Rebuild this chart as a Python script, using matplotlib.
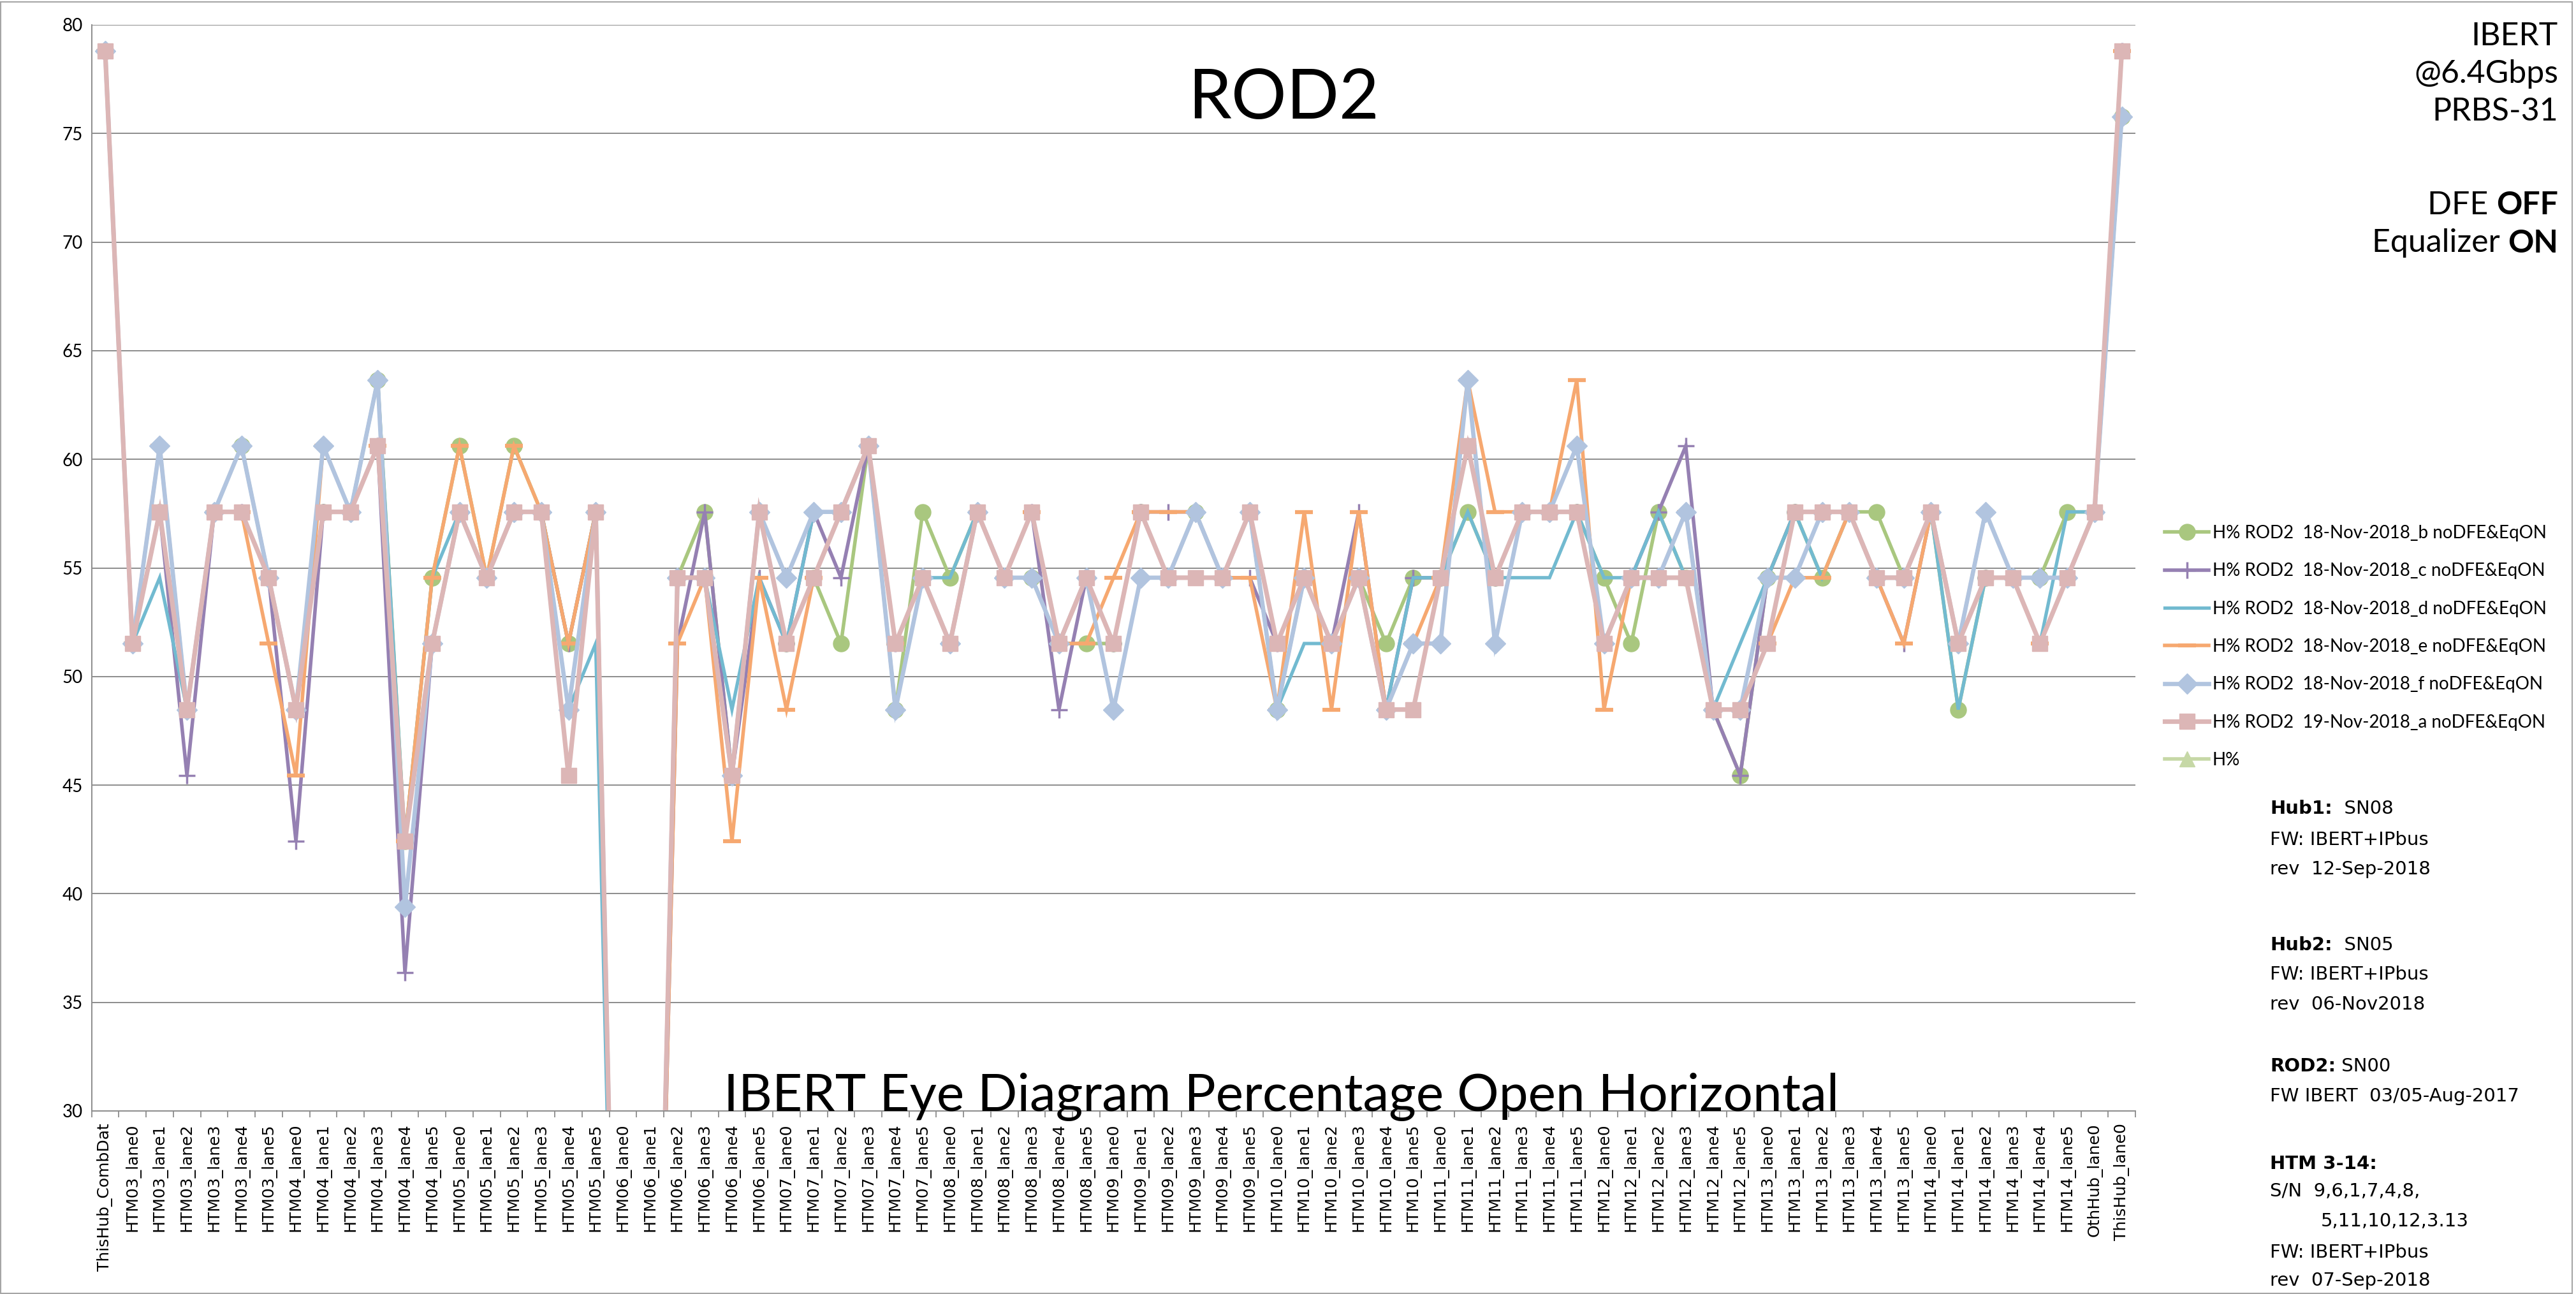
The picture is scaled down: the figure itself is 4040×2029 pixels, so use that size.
import numpy as np
import matplotlib
matplotlib.use("Agg")
import matplotlib.pyplot as plt
from matplotlib.patches import Rectangle

plt.rcParams['font.family'] = ['Lato', 'DejaVu Sans']

# ---------------- data ----------------
categories = (
    ['ThisHub_CombDat'] +
    ['HTM03_lane0', 'HTM03_lane1', 'HTM03_lane2', 'HTM03_lane3', 'HTM03_lane4', 'HTM03_lane5'] +
    ['HTM04_lane0', 'HTM04_lane1', 'HTM04_lane2', 'HTM04_lane3', 'HTM04_lane4', 'HTM04_lane5'] +
    ['HTM05_lane0', 'HTM05_lane1', 'HTM05_lane2', 'HTM05_lane3', 'HTM05_lane4', 'HTM05_lane5'] +
    ['HTM06_lane0', 'HTM06_lane1', 'HTM06_lane2', 'HTM06_lane3', 'HTM06_lane4', 'HTM06_lane5'] +
    ['HTM07_lane0', 'HTM07_lane1', 'HTM07_lane2', 'HTM07_lane3', 'HTM07_lane4', 'HTM07_lane5'] +
    ['HTM08_lane0', 'HTM08_lane1', 'HTM08_lane2', 'HTM08_lane3', 'HTM08_lane4', 'HTM08_lane5'] +
    ['HTM09_lane0', 'HTM09_lane1', 'HTM09_lane2', 'HTM09_lane3', 'HTM09_lane4', 'HTM09_lane5'] +
    ['HTM10_lane0', 'HTM10_lane1', 'HTM10_lane2', 'HTM10_lane3', 'HTM10_lane4', 'HTM10_lane5'] +
    ['HTM11_lane0', 'HTM11_lane1', 'HTM11_lane2', 'HTM11_lane3', 'HTM11_lane4', 'HTM11_lane5'] +
    ['HTM12_lane0', 'HTM12_lane1', 'HTM12_lane2', 'HTM12_lane3', 'HTM12_lane4', 'HTM12_lane5'] +
    ['HTM13_lane0', 'HTM13_lane1', 'HTM13_lane2', 'HTM13_lane3', 'HTM13_lane4', 'HTM13_lane5'] +
    ['HTM14_lane0', 'HTM14_lane1', 'HTM14_lane2', 'HTM14_lane3', 'HTM14_lane4', 'HTM14_lane5'] +
    ['OthHub_lane0', 'ThisHub_lane0']
)

h_b = [78.79, 51.52, 57.58, 48.48, 57.58, 60.61, 54.55, 48.48, 57.58, 57.58,
       63.64, 42.42, 54.55, 60.61, 54.55, 60.61, 57.58, 51.52, 57.58, 0,
       0, 54.55, 57.58, 45.45, 57.58, 51.52, 54.55, 51.52, 60.61, 48.48,
       57.58, 54.55, 57.58, 54.55, 54.55, 51.52, 51.52, 51.52, 57.58, 54.55,
       57.58, 54.55, 57.58, 48.48, 54.55, 51.52, 54.55, 51.52, 54.55, 54.55,
       57.58, 54.55, 57.58, 57.58, 57.58, 54.55, 51.52, 57.58, 54.55, 48.48,
       45.45, 54.55, 57.58, 54.55, 57.58, 57.58, 54.55, 57.58, 48.48, 54.55,
       54.55, 54.55, 57.58, 57.58, 75.76]

h_c = [78.79, 51.52, 57.58, 45.45, 57.58, 57.58, 54.55, 42.42, 57.58, 57.58,
       60.61, 36.36, 51.52, 57.58, 54.55, 57.58, 57.58, 51.52, 57.58, 0,
       0, 51.52, 57.58, 45.45, 54.55, 51.52, 57.58, 54.55, 60.61, 51.52,
       54.55, 51.52, 57.58, 54.55, 57.58, 48.48, 54.55, 51.52, 57.58, 57.58,
       57.58, 54.55, 54.55, 51.52, 54.55, 51.52, 57.58, 48.48, 54.55, 54.55,
       60.61, 54.55, 57.58, 57.58, 57.58, 51.52, 54.55, 57.58, 60.61, 48.48,
       45.45, 54.55, 57.58, 57.58, 57.58, 54.55, 51.52, 57.58, 51.52, 54.55,
       54.55, 54.55, 54.55, 57.58, 78.79]

h_d = [78.79, 51.52, 54.55, 48.48, 57.58, 57.58, 54.55, 48.48, 57.58, 57.58,
       63.64, 42.42, 54.55, 57.58, 54.55, 57.58, 57.58, 48.48, 51.52, 0,
       0, 54.55, 54.55, 48.48, 54.55, 51.52, 57.58, 57.58, 60.61, 51.52,
       54.55, 54.55, 57.58, 54.55, 57.58, 51.52, 54.55, 51.52, 57.58, 54.55,
       54.55, 54.55, 57.58, 48.48, 51.52, 51.52, 54.55, 48.48, 54.55, 54.55,
       57.58, 54.55, 54.55, 54.55, 57.58, 54.55, 54.55, 57.58, 54.55, 48.48,
       51.52, 54.55, 57.58, 54.55, 57.58, 54.55, 54.55, 57.58, 48.48, 54.55,
       54.55, 51.52, 57.58, 57.58, 75.76]

h_e = [78.79, 51.52, 60.61, 48.48, 57.58, 57.58, 51.52, 45.45, 60.61, 57.58,
       60.61, 42.42, 54.55, 60.61, 54.55, 60.61, 57.58, 51.52, 57.58, 0,
       0, 51.52, 54.55, 42.42, 54.55, 48.48, 54.55, 57.58, 60.61, 51.52,
       54.55, 51.52, 57.58, 54.55, 57.58, 51.52, 51.52, 54.55, 57.58, 57.58,
       57.58, 54.55, 54.55, 48.48, 57.58, 48.48, 57.58, 48.48, 51.52, 54.55,
       63.64, 57.58, 57.58, 57.58, 63.64, 48.48, 54.55, 54.55, 57.58, 48.48,
       48.48, 51.52, 54.55, 54.55, 57.58, 54.55, 51.52, 57.58, 51.52, 57.58,
       54.55, 51.52, 54.55, 57.58, 78.79]

h_f = [78.79, 51.52, 60.61, 48.48, 57.58, 60.61, 54.55, 48.48, 60.61, 57.58,
       63.64, 39.39, 51.52, 57.58, 54.55, 57.58, 57.58, 48.48, 57.58, 0,
       0, 54.55, 54.55, 45.45, 57.58, 54.55, 57.58, 57.58, 60.61, 48.48,
       54.55, 51.52, 57.58, 54.55, 54.55, 51.52, 54.55, 48.48, 54.55, 54.55,
       57.58, 54.55, 57.58, 48.48, 54.55, 51.52, 54.55, 48.48, 51.52, 51.52,
       63.64, 51.52, 57.58, 57.58, 60.61, 51.52, 54.55, 54.55, 57.58, 48.48,
       48.48, 54.55, 54.55, 57.58, 57.58, 54.55, 54.55, 57.58, 51.52, 57.58,
       54.55, 54.55, 54.55, 57.58, 75.76]

h_a = [78.79, 51.52, 57.58, 48.48, 57.58, 57.58, 54.55, 48.48, 57.58, 57.58,
       60.61, 42.42, 51.52, 57.58, 54.55, 57.58, 57.58, 45.45, 57.58, 0,
       0, 54.55, 54.55, 45.45, 57.58, 51.52, 54.55, 57.58, 60.61, 51.52,
       54.55, 51.52, 57.58, 54.55, 57.58, 51.52, 54.55, 51.52, 57.58, 54.55,
       54.55, 54.55, 57.58, 51.52, 54.55, 51.52, 54.55, 48.48, 48.48, 54.55,
       60.61, 54.55, 57.58, 57.58, 57.58, 51.52, 54.55, 54.55, 54.55, 48.48,
       48.48, 51.52, 57.58, 57.58, 57.58, 54.55, 54.55, 57.58, 51.52, 54.55,
       54.55, 51.52, 54.55, 57.58, 78.79]

h_empty = [np.nan] * len(categories)

series_labels = ['H% ROD2  18-Nov-2018_b noDFE&EqON',
                 'H% ROD2  18-Nov-2018_c noDFE&EqON',
                 'H% ROD2  18-Nov-2018_d noDFE&EqON',
                 'H% ROD2  18-Nov-2018_e noDFE&EqON',
                 'H% ROD2  18-Nov-2018_f noDFE&EqON',
                 'H% ROD2  19-Nov-2018_a noDFE&EqON',
                 'H%']
y_ticks = [30, 35, 40, 45, 50, 55, 60, 65, 70, 75, 80]

# ---------------- styles ----------------
styles = [
    dict(color='#A9C77F', lw=4.0, marker='o', ms=18, mec='#A9C77F'),
    dict(color='#9580B2', lw=4.0, marker='+', ms=19, mew=2.5),
    dict(color='#72BAD0', lw=3.8, marker=None),
    dict(color='#F6A870', lw=4.0, marker='_', ms=20, mew=4.5),
    dict(color='#B1C4DF', lw=4.8, marker='D', ms=16, mec='#B1C4DF'),
    dict(color='#DCB6B6', lw=5.2, marker='s', ms=17, mec='#DCB6B6'),
    dict(color='#C6D8A6', lw=4.0, marker='^', ms=17, mec='#C6D8A6'),
]
all_series = [h_b, h_c, h_d, h_e, h_f, h_a, h_empty]

W, H = 4041, 2029
fig = plt.figure(figsize=(W / 100, H / 100), dpi=100)
ax = fig.add_axes([143.6 / W, 1 - 1742 / H, (3349 - 143.6) / W, (1742 - 39) / H])

x = np.arange(len(categories))
handles = []
for vals, st, lab in zip(all_series, styles, series_labels):
    ln, = ax.plot(x, vals, label=lab, solid_joinstyle='miter', **st)
    handles.append(ln)

ax.set_xlim(-0.5, len(categories) - 0.5)
ax.set_ylim(30, 80)
ax.set_yticks(y_ticks)
ax.set_yticklabels([str(v) for v in y_ticks], fontsize=20)
ax.tick_params(axis='y', length=0, pad=10)
ax.set_xticks(x)
ax.set_xticklabels(categories, rotation=90, fontsize=18, family='DejaVu Sans')
ax.tick_params(axis='x', which='major', length=0, pad=14)
ax.set_xticks(np.arange(-0.5, len(categories), 1), minor=True)
ax.tick_params(axis='x', which='minor', length=7, width=1.3, color='#8c8c8c', direction='out')

ax.yaxis.grid(True, color='#8c8c8c', lw=1.4)
ax.set_axisbelow(True)
for s in ['top', 'right']:
    ax.spines[s].set_visible(False)
for s in ['left', 'bottom']:
    ax.spines[s].set_color('#8c8c8c')
    ax.spines[s].set_linewidth(1.4)

ax.legend(handles, series_labels, loc='upper left', bbox_to_anchor=(3395 / W, 1 - 823 / H),
          bbox_transform=fig.transFigure, frameon=False, fontsize=20, handlelength=2.5,
          handletextpad=0.2, labelspacing=1.2, borderpad=0, borderaxespad=0, numpoints=1)

# titles
fig.text(2013 / W, 1 - 155 / H, 'ROD2', fontsize=78, ha='center', va='center')
fig.text(2010 / W, 1 - 1742 / H, 'IBERT Eye Diagram Percentage Open Horizontal',
         fontsize=59, ha='center', va='baseline')

# outer frame
fig.patches.append(Rectangle((1 / W, 1 / H), (W - 8) / W, (H - 4) / H, transform=fig.transFigure,
                             fill=False, ec='#a6a6a6', lw=1.5))

fig.canvas.draw()
renderer = fig.canvas.get_renderer()


def width_of(t):
    return t.get_window_extent(renderer=renderer).width / fig.bbox.width


# top-right notes
xr = 4012 / W
for txt, yy in [('IBERT', 57), ('@6.4Gbps', 116), ('PRBS-31', 175)]:
    fig.text(xr, 1 - yy / H, txt, fontsize=36, ha='right', va='center')
for norm, bold, yy in [('DFE ', 'OFF', 322), ('Equalizer ', 'ON', 381)]:
    tb = fig.text(xr, 1 - yy / H, bold, fontsize=36, ha='right', va='center', weight='bold')
    fig.text(xr - width_of(tb), 1 - yy / H, norm, fontsize=36, ha='right', va='center')

# bottom-right notes
xl = 3560 / W
notes = [
    ('Hub1:', '  SN08', 1268), ('', 'FW: IBERT+IPbus', 1317), ('', 'rev  12-Sep-2018', 1363),
    ('Hub2:', '  SN05', 1482), ('', 'FW: IBERT+IPbus', 1528), ('', 'rev  06-Nov2018', 1575),
    ('ROD2:', ' SN00', 1672), ('', 'FW IBERT  03/05-Aug-2017', 1719),
    ('HTM 3-14:', '', 1825), ('', 'S/N  9,6,1,7,4,8,', 1868),
    ('', 'FW: IBERT+IPbus', 1964), ('', 'rev  07-Sep-2018', 2008),
]
for bold, norm, yy in notes:
    xx = xl
    if bold:
        tb = fig.text(xx, 1 - yy / H, bold, fontsize=21, ha='left', va='center',
                      weight='bold', family='DejaVu Sans')
        xx += width_of(tb)
    if norm:
        fig.text(xx, 1 - yy / H, norm, fontsize=21, ha='left', va='center', family='DejaVu Sans')
fig.text(3640 / W, 1 - 1915 / H, '5,11,10,12,3.13', fontsize=21, ha='left', va='center',
         family='DejaVu Sans')

fig.savefig('out.png', dpi=100)
